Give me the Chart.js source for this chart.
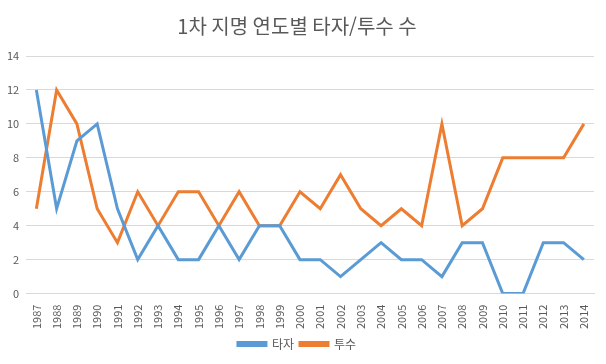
<!DOCTYPE html>
<html lang="ko">
<head>
<meta charset="UTF-8">
<title>1차 지명 연도별 타자/투수 수</title>
<script src="https://cdn.jsdelivr.net/npm/chart.js"></script>
<style>
  html, body { margin: 0; padding: 0; background: #fff; }
  #wrap { width: 606px; height: 364px; }
</style>
</head>
<body>
<div id="wrap"><canvas id="chart" width="606" height="364"></canvas></div>
<script>
const years = ['1987','1988','1989','1990','1991','1992','1993','1994','1995','1996','1997','1998','1999','2000',
  '2001','2002','2003','2004','2005','2006','2007','2008','2009','2010','2011','2012','2013','2014'];
const batters  = [12, 5, 9, 10, 5, 2, 4, 2, 2, 4, 2, 4, 4, 2, 2, 1, 2, 3, 2, 2, 1, 3, 3, 0, 0, 3, 3, 2];
const pitchers = [5, 12, 10, 5, 3, 6, 4, 6, 6, 4, 6, 4, 4, 6, 5, 7, 5, 4, 5, 4, 10, 4, 5, 8, 8, 8, 8, 10];

const font = "'Noto Sans CJK KR', 'Noto Sans', sans-serif";

new Chart(document.getElementById('chart'), {
  type: 'line',
  data: {
    labels: years,
    datasets: [
      { label: '타자', data: batters, borderColor: '#5B9BD5', backgroundColor: '#5B9BD5',
        borderWidth: 3, pointRadius: 0, tension: 0 },
      { label: '투수', data: pitchers, borderColor: '#ED7D31', backgroundColor: '#ED7D31',
        borderWidth: 3, pointRadius: 0, tension: 0 }
    ]
  },
  options: {
    responsive: false,
    animation: false,
    layout: { padding: { left: 0, right: 12, top: 6, bottom: 4 } },
    plugins: {
      title: {
        display: true,
        text: '1차 지명 연도별 타자/투수 수',
        color: '#595959',
        font: { family: font, size: 20, weight: 'normal' },
        padding: { top: 8, bottom: 18 }
      },
      legend: {
        position: 'bottom',
        labels: {
          color: '#595959',
          font: { family: font, size: 12 },
          boxWidth: 28, boxHeight: 3,
          padding: 6
        }
      },
      tooltip: { enabled: false }
    },
    scales: {
      x: {
        offset: true,
        grid: { display: false },
        border: { color: '#d9d9d9' },
        ticks: { color: '#595959', font: { family: font, size: 11 }, minRotation: 90, maxRotation: 90, autoSkip: false }
      },
      y: {
        min: 0, max: 14,
        grid: { color: '#d9d9d9', drawTicks: false },
        border: { display: false },
        ticks: { stepSize: 2, color: '#595959', font: { family: font, size: 11 }, padding: 7 }
      }
    }
  }
});
</script>
</body>
</html>
